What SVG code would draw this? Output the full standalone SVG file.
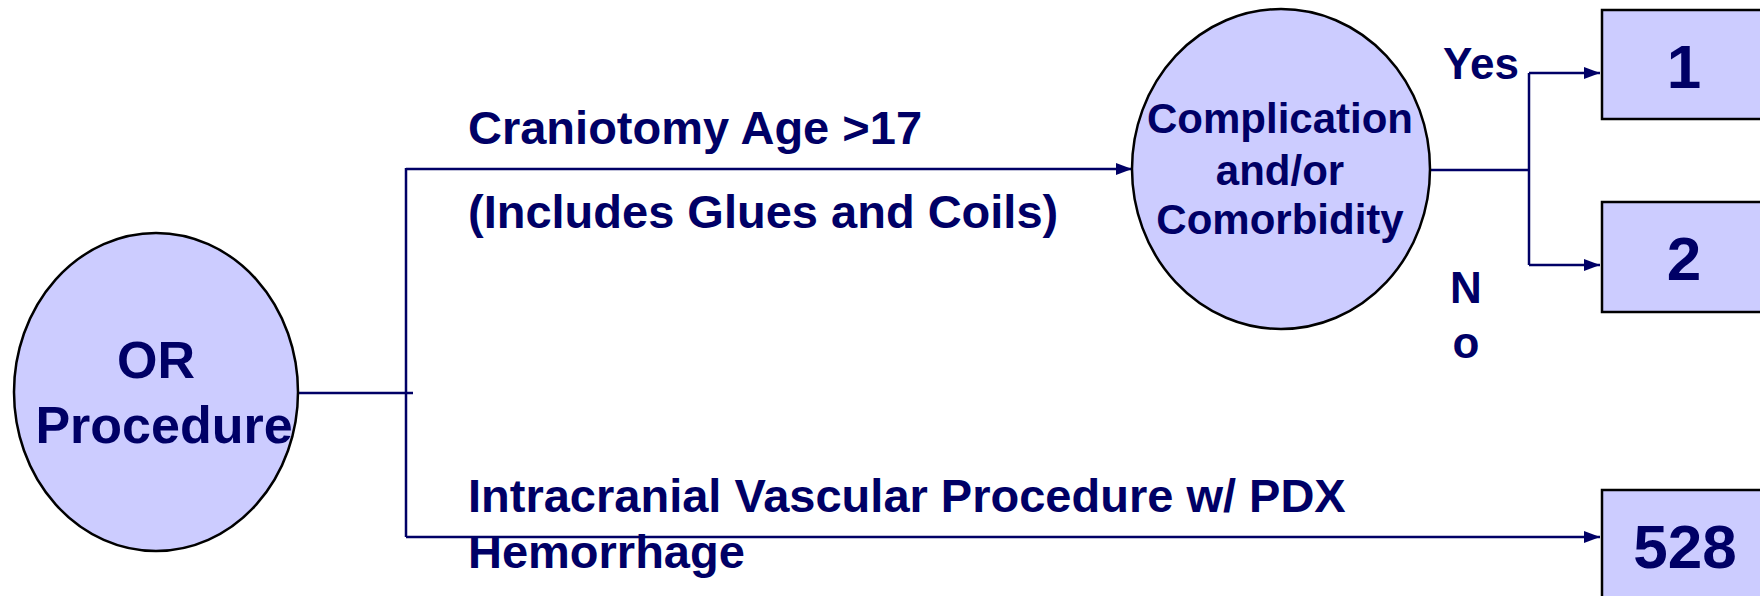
<svg xmlns="http://www.w3.org/2000/svg" width="1760" height="596" viewBox="0 0 1760 596">
<defs>
<style>
.node{fill:#CCCCFF;stroke:#000000;stroke-width:2.5}
.t{font-family:"Liberation Sans",Arial,sans-serif;font-weight:bold;fill:#000066}
.c{text-anchor:middle}
.ln{fill:none;stroke:#000066;stroke-width:2.5}
</style>
<marker id="ah" markerWidth="16" markerHeight="12" refX="16" refY="6" orient="auto" markerUnits="userSpaceOnUse">
<path d="M0,0 L16,6 L0,12 Z" fill="#000066"/>
</marker>
</defs>
<rect width="1760" height="596" fill="#ffffff"/>
<g id="connectors">
<path class="ln" d="M298,393 H413"/>
<path class="ln" d="M406,168 V537"/>
<path class="ln" d="M406,169 H1132" marker-end="url(#ah)"/>
<path class="ln" d="M406,537 H1600" marker-end="url(#ah)"/>
<path class="ln" d="M1430,170 H1529"/>
<path class="ln" d="M1529,73 V265"/>
<path class="ln" d="M1529,73 H1600" marker-end="url(#ah)"/>
<path class="ln" d="M1529,265 H1600" marker-end="url(#ah)"/>
</g>
<g id="labels">
<text class="t" x="468" y="144" font-size="47">Craniotomy Age &gt;17</text>
<text class="t" x="468" y="228" font-size="47">(Includes Glues and Coils)</text>
<text class="t" x="468" y="512" font-size="47">Intracranial Vascular Procedure w/ PDX</text>
<text class="t" x="468" y="568" font-size="47">Hemorrhage</text>
<text class="t" x="1443" y="79" font-size="44">Yes</text>
<text class="t c" x="1466" y="303" font-size="44">N</text>
<text class="t c" x="1466" y="358" font-size="44">o</text>
</g>
<g id="or-procedure">
<ellipse class="node" cx="156" cy="392" rx="142" ry="159"/>
<text class="t c" x="156" y="378" font-size="52">OR</text>
<text class="t c" x="164" y="443" font-size="52">Procedure</text>
</g>
<g id="complication">
<ellipse class="node" cx="1281" cy="169" rx="149" ry="160"/>
<text class="t c" x="1280" y="133" font-size="42">Complication</text>
<text class="t c" x="1280" y="185" font-size="42">and/or</text>
<text class="t c" x="1280" y="234" font-size="42">Comorbidity</text>
</g>
<g id="drg-1">
<rect class="node" x="1602" y="10" width="170" height="109"/>
<text class="t c" x="1684" y="88" font-size="62">1</text>
</g>
<g id="drg-2">
<rect class="node" x="1602" y="202" width="170" height="110"/>
<text class="t c" x="1684" y="280" font-size="62">2</text>
</g>
<g id="drg-528">
<rect class="node" x="1602" y="490" width="170" height="120"/>
<text class="t c" x="1685" y="568" font-size="62">528</text>
</g>
</svg>
